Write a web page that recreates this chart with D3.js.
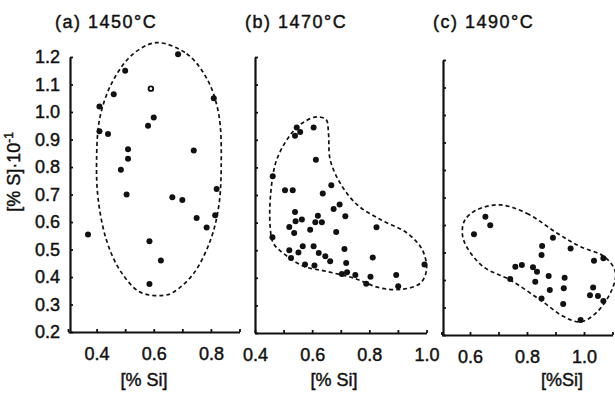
<!DOCTYPE html>
<html>
<head>
<meta charset="utf-8">
<script src="https://cdn.jsdelivr.net/npm/d3@7"></script>
<style>
  body { margin: 0; background: #fff; }
  svg { display: block; }
  text { font-family: "Liberation Sans", Arial, sans-serif; fill: #111; stroke: #111; stroke-width: 0.45px; }
</style>
</head>
<body>
<div id="chart"></div>
<script>
// points [ %Si , %S*10 ]
const ptsA = [
  [0.37, 0.555], [0.41, 1.02], [0.41, 0.93], [0.44, 0.92], [0.46, 1.065],
  [0.50, 1.15], [0.51, 0.865], [0.51, 0.83], [0.485, 0.79], [0.505, 0.70],
  [0.60, 0.98], [0.58, 0.95], [0.585, 0.53], [0.585, 0.375],
  [0.625, 0.46], [0.685, 1.21], [0.665, 0.69], [0.70, 0.68], [0.74, 0.86],
  [0.75, 0.615], [0.785, 0.58], [0.81, 1.05], [0.82, 0.72], [0.815, 0.625]
]
const openA = [[0.59, 1.085]]

const ptsB = [
  [0.546, 0.945], [0.54, 0.915], [0.558, 0.928], [0.605, 0.945], [0.613, 0.828],
  [0.462, 0.768], [0.505, 0.717], [0.532, 0.717], [0.637, 0.705], [0.667, 0.735],
  [0.696, 0.666], [0.675, 0.649], [0.716, 0.623], [0.54, 0.638], [0.542, 0.605],
  [0.564, 0.611], [0.52, 0.584], [0.537, 0.562], [0.593, 0.574], [0.611, 0.601],
  [0.62, 0.625], [0.634, 0.601], [0.684, 0.566], [0.461, 0.547], [0.825, 0.583],
  [0.52, 0.50], [0.526, 0.472], [0.552, 0.492], [0.567, 0.514], [0.605, 0.514],
  [0.623, 0.49], [0.646, 0.478], [0.663, 0.46], [0.713, 0.504], [0.719, 0.454],
  [0.575, 0.448], [0.608, 0.445], [0.704, 0.414], [0.722, 0.42], [0.751, 0.41],
  [0.804, 0.404], [0.789, 0.378], [0.812, 0.474], [0.894, 0.41], [0.901, 0.369],
  [0.993, 0.448]
]

const ptsC = [
  [0.614, 0.566], [0.654, 0.630], [0.671, 0.599], [0.741, 0.404], [0.759, 0.448],
  [0.782, 0.455], [0.821, 0.446], [0.835, 0.430], [0.829, 0.394], [0.853, 0.524],
  [0.851, 0.491], [0.851, 0.333], [0.876, 0.415], [0.88, 0.364], [0.891, 0.554],
  [0.932, 0.408], [0.929, 0.370], [0.927, 0.313], [0.953, 0.515], [0.988, 0.255],
  [1.021, 0.345], [1.032, 0.373], [1.035, 0.470], [1.068, 0.479], [1.049, 0.342],
  [1.068, 0.324]
]

// dashed envelopes drawn round each group
const hullA = [
  [0.61, 1.252], [0.715, 1.212], [0.786, 1.121], [0.827, 0.994], [0.836, 0.80],
  [0.827, 0.655], [0.798, 0.533], [0.739, 0.412], [0.669, 0.345], [0.634, 0.333],
  [0.552, 0.345], [0.482, 0.424], [0.435, 0.533], [0.406, 0.679], [0.40, 0.824],
  [0.412, 0.982], [0.458, 1.115], [0.529, 1.212]
]
const hullB = [
  [0.616, 0.983], [0.649, 0.973], [0.657, 0.925], [0.663, 0.828], [0.698, 0.743],
  [0.757, 0.665], [0.839, 0.611], [0.932, 0.562], [0.985, 0.502], [1.0, 0.429],
  [0.979, 0.381], [0.92, 0.359], [0.839, 0.363], [0.745, 0.399], [0.651, 0.423],
  [0.57, 0.442], [0.505, 0.484], [0.464, 0.526], [0.453, 0.586], [0.455, 0.707],
  [0.476, 0.828], [0.529, 0.925], [0.575, 0.967]
]
const hullC = [
  [0.706, 0.673], [0.80, 0.642], [0.906, 0.570], [0.988, 0.521], [1.071, 0.485],
  [1.11, 0.43], [1.10, 0.37], [1.047, 0.285], [0.988, 0.248], [0.929, 0.267],
  [0.847, 0.327], [0.741, 0.40], [0.647, 0.448], [0.588, 0.521], [0.573, 0.570],
  [0.582, 0.618], [0.624, 0.655]
]

const titles = ["(a) 1450°C", "(b) 1470°C", "(c) 1490°C"]
const xLabels = ["[% Si]", "[% Si]", "[%Si]"]
const yTicks = [0.2, 0.3, 0.4, 0.5, 0.6, 0.7, 0.8, 0.9, 1.0, 1.1, 1.2]
const xTicksA = [0.3, 0.4, 0.5, 0.6, 0.7, 0.8, 0.9]
const xTicksB = [0.4, 0.5, 0.6, 0.7, 0.8, 0.9, 1.0]
const xTicksC = [0.5, 0.6, 0.7, 0.8, 0.9, 1.0, 1.1]
const xShownA = [0.4, 0.6, 0.8]
const xShownB = [0.4, 0.6, 0.8, 1.0]
const xShownC = [0.6, 0.8, 1.0]

const W = 615, H = 396

const svg = d3.select("#chart").append("svg")
  .attr("width", W)
  .attr("height", H)

/* one entry per panel: where it sits on the page */
const panels = [
  { pts: ptsA, open: openA, hull: hullA, xd: [0.3, 0.9], xr: [68, 239.5], yr: [332, 57], axisX: 70,
    xt: xTicksA, xs: xShownA, yLab: true, titleX: 55, labX: 144 },
  { pts: ptsB, open: [], hull: hullB, xd: [0.4, 1.0], xr: [255, 426.5], yr: [333, 57], axisX: 255,
    xt: xTicksB, xs: xShownB, yLab: false, titleX: 245, labX: 334 },
  { pts: ptsC, open: [], hull: hullC, xd: [0.5, 1.1], xr: [441.5, 612.5], yr: [335, 60], axisX: 443,
    xt: xTicksC, xs: xShownC, yLab: false, titleX: 433, labX: 562 }
]

const fmt = d3.format(".1f")

panels.forEach((p, i) => {
  const x = d3.scaleLinear().domain(p.xd).range(p.xr)
  const y = d3.scaleLinear().domain([0.2, 1.2]).range(p.yr)

  // envelope first so the dots sit on top
  const line = d3.line()
    .x(d => x(d[0]))
    .y(d => y(d[1]))
    .curve(d3.curveCatmullRomClosed.alpha(0.5))
  svg.append("path")
    .attr("d", line(p.hull))
    .attr("fill", "none")
    .attr("stroke", "#111")
    .attr("stroke-width", 1.7)
    .attr("stroke-dasharray", "4,3")

  // x axis, ticks pointing up
  const gx = svg.append("g")
    .attr("transform", "translate(0," + p.yr[0] + ")")
    .call(d3.axisBottom(x)
      .tickValues(p.xt)
      .tickSizeInner(-3)
      .tickSizeOuter(0)
      .tickPadding(15)
      .tickFormat(d => p.xs.some(v => Math.abs(v - d) < 1e-6) ? fmt(d) : ""))
  gx.select(".domain").attr("stroke", "#111").attr("stroke-width", 2.2)
  gx.selectAll(".tick line").attr("stroke", "#111").attr("stroke-width", 1.8)
  gx.selectAll("text")
    .attr("font-family", "Liberation Sans, Arial, sans-serif")
    .attr("font-size", 18)
    .attr("fill", "#111")

  // y axis, ticks pointing right
  const gy = svg.append("g")
    .attr("transform", "translate(" + p.axisX + ",0)")
    .call(d3.axisLeft(y)
      .tickValues(yTicks)
      .tickSizeInner(-3)
      .tickSizeOuter(0)
      .tickPadding(10)
      .tickFormat(d => p.yLab ? fmt(d) : ""))
  gy.select(".domain").attr("stroke", "#111").attr("stroke-width", 2.2)
  gy.selectAll(".tick line").attr("stroke", "#111").attr("stroke-width", 1.8)
  gy.selectAll("text")
    .attr("font-family", "Liberation Sans, Arial, sans-serif")
    .attr("font-size", 18)
    .attr("fill", "#111")

  svg.append("g")
    .selectAll("circle")
    .data(p.pts)
    .join("circle")
    .attr("cx", d => x(d[0]))
    .attr("cy", d => y(d[1]))
    .attr("r", 3)
    .attr("fill", "#111")

  svg.append("g")
    .selectAll("circle")
    .data(p.open)
    .join("circle")
    .attr("cx", d => x(d[0]))
    .attr("cy", d => y(d[1]))
    .attr("r", 2.3)
    .attr("fill", "#fff")
    .attr("stroke", "#111")
    .attr("stroke-width", 1.9)

  svg.append("text")
    .attr("x", p.titleX)
    .attr("y", 28)
    .attr("font-size", 18)
    .attr("letter-spacing", 1.5)
    .text(titles[i])

  svg.append("text")
    .attr("x", p.labX)
    .attr("y", 386)
    .attr("text-anchor", "middle")
    .attr("font-size", 18)
    .text(xLabels[i])
})

// rotated y title
const yt = svg.append("text")
  .attr("transform", "translate(20,172) rotate(-90)")
  .attr("text-anchor", "middle")
  .attr("font-size", 18)
yt.append("tspan").text("[% S]·10")
yt.append("tspan").attr("dy", -7).attr("font-size", 12).text("-1")
</script>
</body>
</html>
